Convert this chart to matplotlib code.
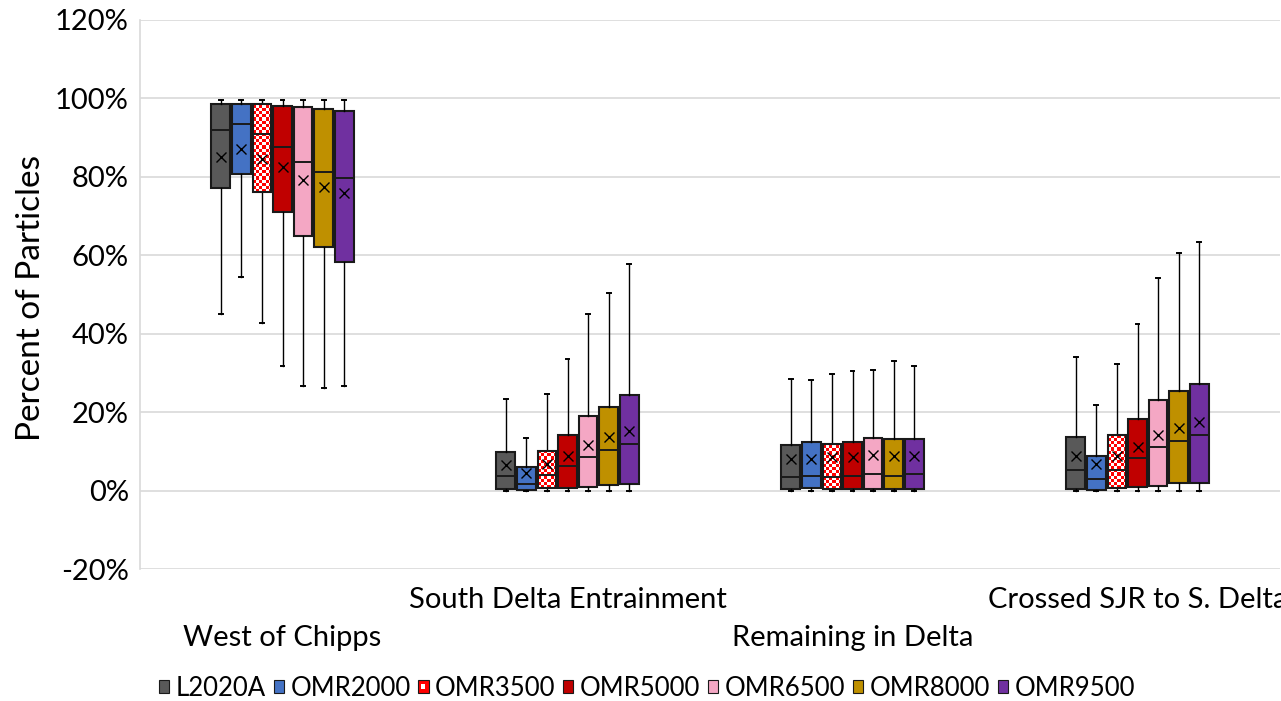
import numpy as np
import matplotlib
matplotlib.use("Agg")
import matplotlib.pyplot as plt
from matplotlib.patches import Rectangle, Patch
from matplotlib.legend_handler import HandlerBase
import matplotlib.transforms as mtransforms

#-----------------------------------------------------------------------------#
# Values (percent). Rows are categories, columns scenarios.
#-----------------------------------------------------------------------------#
categories = ['West of Chipps', 'South Delta Entrainment',
              'Remaining in Delta', 'Crossed SJR to S. Delta']
series = ['L2020A', 'OMR2000', 'OMR3500', 'OMR5000', 'OMR6500', 'OMR8000', 'OMR9500']
colors = ['#595959', '#4472C4', 'checker', '#C00000', '#F4A7C4', '#BF9000', '#7030A0']

whishi = [[99.7, 99.7, 99.7, 99.7, 99.7, 99.7, 99.7],
          [23.4, 13.4, 24.6, 33.6, 45.1, 50.4, 57.7],
          [28.4, 28.1, 29.7, 30.4, 30.7, 33.0, 31.7],
          [34.0, 21.8, 32.2, 42.4, 54.1, 60.5, 63.3]]
q3 = [[98.7, 98.7, 98.5, 98.0, 97.9, 97.3, 96.8],
      [9.8, 6.0, 10.1, 14.1, 19.0, 21.3, 24.3],
      [11.5, 12.4, 12.0, 12.5, 13.3, 13.2, 13.2],
      [13.7, 8.8, 14.1, 18.2, 23.2, 25.3, 27.1]]
med = [[91.9, 93.5, 91.0, 87.5, 83.8, 81.3, 79.6],
       [3.8, 1.6, 3.9, 6.2, 8.5, 10.3, 11.9],
       [3.4, 3.7, 3.4, 3.8, 4.2, 3.8, 4.2],
       [5.2, 3.0, 5.2, 8.2, 11.1, 12.6, 14.1]]
mean = [[85.0, 87.0, 84.5, 82.4, 79.1, 77.3, 75.8],
        [6.4, 4.5, 6.8, 8.8, 11.5, 13.6, 15.1],
        [8.0, 8.0, 8.5, 8.5, 9.0, 8.8, 8.8],
        [8.7, 6.7, 8.7, 11.0, 14.1, 15.9, 17.5]]
q1 = [[77.2, 80.7, 76.1, 71.0, 65.0, 62.1, 58.2],
      [0.3, 0.2, 0.7, 0.6, 0.9, 1.4, 1.6],
      [0.4, 0.7, 0.5, 0.5, 0.5, 0.5, 0.5],
      [0.3, 0.1, 0.6, 0.8, 1.1, 2.0, 2.0]]
whislo = [[45.0, 54.4, 42.7, 31.7, 26.6, 26.2, 26.6],
          [0.0, 0.0, 0.0, 0.0, 0.0, 0.0, 0.0],
          [0.0, 0.0, 0.0, 0.0, 0.0, 0.0, 0.0],
          [0.0, 0.0, 0.0, 0.0, 0.0, 0.0, 0.0]]

yticks = [-20, 0, 20, 40, 60, 80, 100, 120]

#-----------------------------------------------------------------------------#
# Figure set-up
#-----------------------------------------------------------------------------#
plt.rcParams['font.family'] = ['Lato', 'DejaVu Sans']
W, H = 1281, 701
fig = plt.figure(figsize=(W/100, H/100), dpi=100)
ax = fig.add_axes([140/W, 1-569/H, 1140/W, 549/H])

spacing = 0.0723
width = 0.065
ax.set_xlim(-0.5, len(categories)-0.5)
ax.set_ylim(-20, 120)

# pixels per data unit, used for the checker squares
pxx = 1140/len(categories)
pxy = 549/140.

for j, s in enumerate(series):
    stats = []
    pos = []
    for i in range(len(categories)):
        stats.append(dict(med=med[i][j], q1=q1[i][j], q3=q3[i][j], whislo=whislo[i][j],
                          whishi=whishi[i][j], mean=mean[i][j], fliers=[]))
        pos.append(i + (j-3)*spacing)
    fc = 'white' if colors[j] == 'checker' else colors[j]
    res = ax.bxp(stats, positions=pos, widths=width, patch_artist=True, showmeans=True,
                 capwidths=0.014, manage_ticks=False,
                 boxprops=dict(facecolor=fc, edgecolor='#1a1a1a', linewidth=1.5),
                 medianprops=dict(color='#1a1a1a', linewidth=1.4),
                 whiskerprops=dict(color='black', linewidth=1.0),
                 capprops=dict(color='black', linewidth=1.4),
                 meanprops=dict(marker='x', markeredgecolor='black', markersize=7,
                                markeredgewidth=1.0))
    for b in res['boxes']:
        b.set_zorder(2)
    for m in res['medians']:
        m.set_zorder(4)
    for m in res['means']:
        m.set_zorder(5)
    if colors[j] == 'checker':
        for i, b in enumerate(res['boxes']):
            x0 = pos[i]-width/2
            x1 = pos[i]+width/2
            ncol = 6
            sq = width*pxx/ncol
            nrow = max(1, int(round((q3[i][j]-q1[i][j])*pxy/sq)))
            grid = (np.indices((nrow, ncol)).sum(axis=0) % 2).astype(float)
            rgb = np.ones((nrow, ncol, 3))
            rgb[grid == 1] = [1.0, 0.0, 0.0]
            im = ax.imshow(rgb, extent=[x0, x1, q1[i][j], q1[i][j]+nrow*sq/pxy],
                           origin='lower', interpolation='nearest', aspect='auto',
                           zorder=2.5)
            im.set_clip_path(b)
            b.set_facecolor('none')
            b.set_zorder(3)
ax.set_xlim(-0.5, len(categories)-0.5)
ax.set_ylim(-20, 120)

ax.set_yticks(yticks)
ax.set_yticklabels([f'{t}%' for t in yticks], fontsize=21)
ax.tick_params(axis='y', length=0, pad=8)
ax.set_xticks([])
ax.grid(axis='y', color='#D9D9D9', linewidth=1.2)
ax.set_axisbelow(True)
for sp in ['top', 'right', 'bottom']:
    ax.spines[sp].set_visible(False)
ax.spines['left'].set_color('#D9D9D9')
ax.spines['left'].set_linewidth(1.2)

ax.set_ylabel('Percent of Particles', fontsize=24)
ax.yaxis.set_label_coords(-0.0825, 0.4936)

# staggered category labels like the Excel axis
trans = mtransforms.blended_transform_factory(ax.transData, ax.transAxes)
for i, c in enumerate(categories):
    yy = -0.1257 if i % 2 == 0 else -0.0565
    ax.text(i, yy, c, transform=trans, ha='center', va='center', fontsize=21,
            clip_on=False)

#-----------------------------------------------------------------------------#
# Legend
#-----------------------------------------------------------------------------#
class CheckerHandler(HandlerBase):
    def create_artists(self, legend, orig_handle, xdescent, ydescent, width, height,
                       fontsize, trans):
        outer = Rectangle((-xdescent, -ydescent), width, height, facecolor='#FF0000',
                          edgecolor='#1a1a1a', linewidth=0.8, transform=trans)
        inner = Rectangle((-xdescent+width*0.3, -ydescent+height*0.3), width*0.4,
                          height*0.4, facecolor='white', edgecolor='none', transform=trans)
        return [outer, inner]

handles = []
hmap = {}
for j, s in enumerate(series):
    if colors[j] == 'checker':
        h = Patch(facecolor='white', edgecolor='black', label=s)
        hmap[h] = CheckerHandler()
    else:
        h = Patch(facecolor=colors[j], edgecolor='#1a1a1a', linewidth=0.8, label=s)
    handles.append(h)

fig.legend(handles=handles, handler_map=hmap, loc='center',
           bbox_to_anchor=(647/W, 1-688/H), ncol=7, frameon=False, fontsize=18.5,
           handlelength=0.4, handleheight=0.4, handletextpad=0.25,
           columnspacing=0.3, borderaxespad=0)

fig.savefig('out.png', dpi=100)
